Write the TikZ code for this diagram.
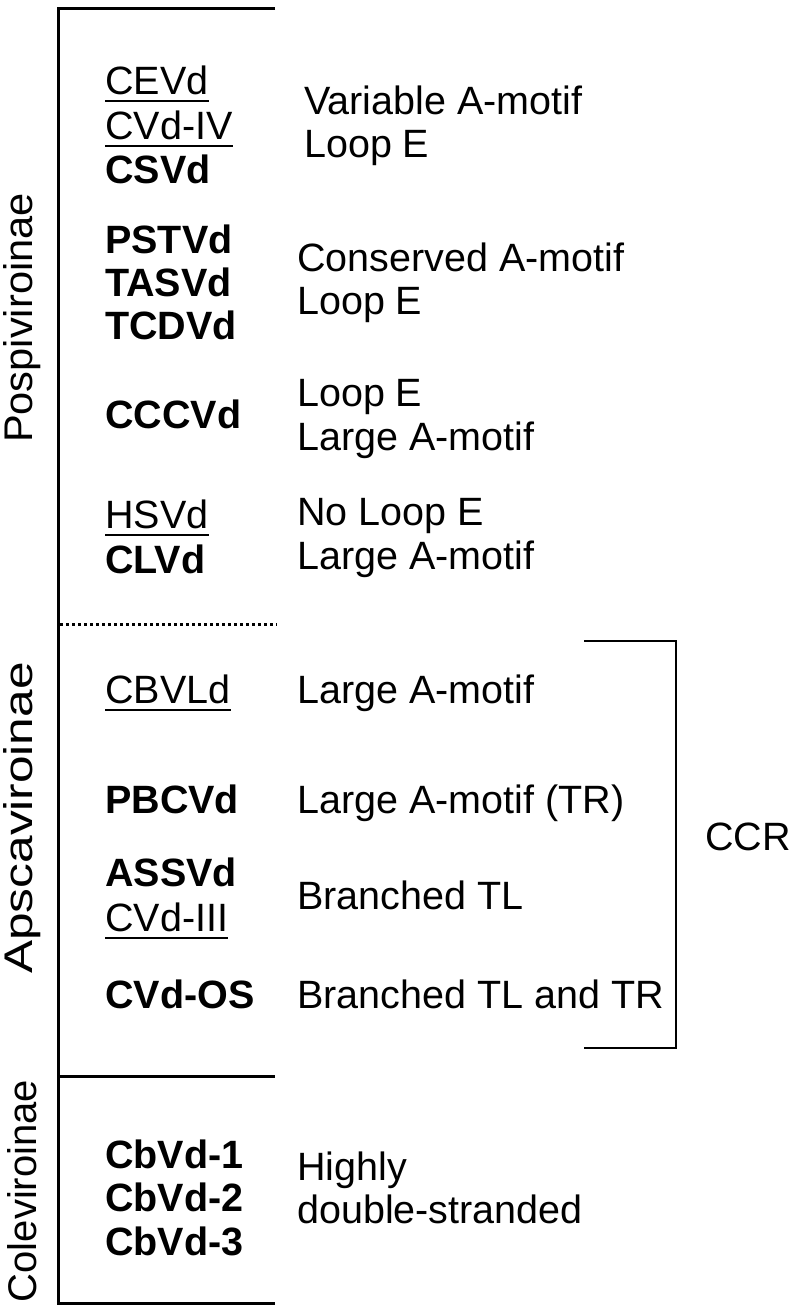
\documentclass[tikz,border=0pt]{standalone}
\usepackage{fontspec}
\setmainfont{Liberation Sans}
\usepackage{tikz}
\usetikzlibrary{calc}
\tikzset{every picture/.style={x=1pt,y=-1pt},
  vname/.style={anchor=base west,inner sep=0pt,font=\bfseries},
  uname/.style={anchor=base west,inner sep=0pt},
  feat/.style={anchor=base west,inner sep=0pt},
  family/.style={rotate=90,inner sep=0pt,font=\fontsize{40}{46}\selectfont},
  frame/.style={line width=3pt},
  ulin/.style={line width=2pt}}

\begin{document}
\begin{tikzpicture}
\fontsize{39.5}{45}\selectfont
\useasboundingbox (0,0) rectangle (793,1312);
% frame
\draw[frame] (275,8) -- (58,8) -- (58,1303) -- (275,1303);
\draw[frame] (58,1076) -- (275,1076);
\draw[frame,dash pattern=on 3pt off 3pt] (60,624) -- (277,624);
\node[family,xscale=1.04] (posp) at (22,318) {Pospiviroinae};
\node[family,xscale=1.24] (apsc) at (22,818) {Apscaviroinae};
\node[family] (cole) at (22,1191) {Coleviroinae};
% Pospiviroinae
\node[uname] (cevd) at (105,94) {CEVd};
\node[uname] (cvd4) at (105,139) {CVd-IV};
\node[vname] (csvd) at (105,183) {CSVd};
\draw[ulin] ($(cevd.base west)+(0,7)$) -- ($(cevd.base east)+(0,7)$);
\draw[ulin] ($(cvd4.base west)+(0,7)$) -- ($(cvd4.base east)+(0,7)$);
\node[feat] (f1a) at (304,114) {Variable A-motif};
\node[feat] (f1b) at (304,157) {Loop E};
\node[vname] (pstvd) at (105,253) {PSTVd};
\node[vname] (tasvd) at (105,296) {TASVd};
\node[vname] (tcdvd) at (105,339) {TCDVd};
\node[feat] (f2a) at (297,271) {Conserved A-motif};
\node[feat] (f2b) at (297,314) {Loop E};
\node[vname] (cccvd) at (105,428) {CCCVd};
\node[feat] (f3a) at (297,406) {Loop E};
\node[feat] (f3b) at (297,450) {Large A-motif};
\node[uname] (hsvd) at (105,528) {HSVd};
\node[vname] (clvd) at (105,573) {CLVd};
\draw[ulin] ($(hsvd.base west)+(0,7)$) -- ($(hsvd.base east)+(0,7)$);
\node[feat] (f4a) at (297,525) {No Loop E};
\node[feat] (f4b) at (297,569) {Large A-motif};
% Apscaviroinae
\node[uname] (cbvld) at (105,703) {CBVLd};
\draw[ulin] ($(cbvld.base west)+(0,7)$) -- ($(cbvld.base east)+(0,7)$);
\node[feat] (f5) at (297,703) {Large A-motif};
\node[vname] (pbcvd) at (105,813) {PBCVd};
\node[feat] (f6) at (297,813) {Large A-motif (TR)};
\node[vname] (assvd) at (105,886) {ASSVd};
\node[uname] (cvd3) at (105,931) {CVd-III};
\draw[ulin] ($(cvd3.base west)+(0,7)$) -- ($(cvd3.base east)+(0,7)$);
\node[feat] (f7) at (297,909) {Branched TL};
\node[vname] (cvdos) at (105,1008) {CVd-OS};
\node[feat] (f8) at (297,1008) {Branched TL and TR};
% CCR bracket
\coordinate (brt) at (584,641);
\coordinate (brb) at (584,1048);
\draw[line width=1.5pt] (brt) -- (676,641) -- (676,1048) -- (brb);
\node[feat] (ccr) at (705,850) {CCR};
% Coleviroinae
\node[vname] (cb1) at (105,1168) {CbVd-1};
\node[vname] (cb2) at (105,1211) {CbVd-2};
\node[vname] (cb3) at (105,1255) {CbVd-3};
\node[feat] (f9a) at (297,1180) {Highly};
\node[feat] (f9b) at (297,1223) {double-stranded};
\end{tikzpicture}
\end{document}
